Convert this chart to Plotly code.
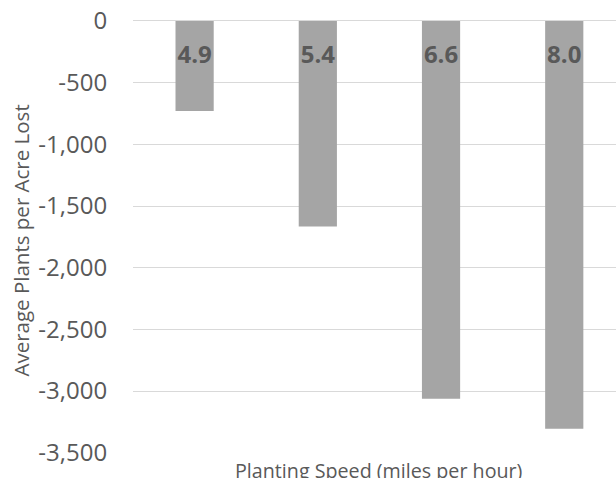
import plotly.graph_objects as go

categories = ["4.9", "5.4", "6.6", "8.0"]
plants_lost = [-730, -1665, -3063, -3305]
y_ticks = [0, -500, -1000, -1500, -2000, -2500, -3000, -3500]
y_tick_text = ["0", "-500", "-1,000", "-1,500", "-2,000", "-2,500", "-3,000", "-3,500"]
x_title = "Planting Speed (miles per hour)"
y_title = "Average Plants per Acre Lost"

LABEL_Y = -295
TXT = "#595959"
FONT = "Open Sans"

fig = go.Figure()
fig.add_trace(go.Bar(
    x=categories, y=plants_lost, width=0.31,
    marker=dict(color="#A5A5A5", line=dict(width=0)),
    hoverinfo="skip",
))
fig.add_trace(go.Scatter(
    x=categories, y=[LABEL_Y] * len(categories), text=categories,
    mode="text", textposition="middle center",
    textfont=dict(family=FONT, size=24, color=TXT, weight="bold"),
    hoverinfo="skip",
))

L = 133
PW = 616 - L

fig.update_layout(
    width=616, height=478,
    margin=dict(l=L, r=0, t=20, b=25),
    paper_bgcolor="white", plot_bgcolor="white",
    showlegend=False,
    font=dict(family=FONT, color=TXT),
    xaxis=dict(
        type="category", range=[-0.5, 3.42],
        showticklabels=False, showgrid=False, zeroline=False,
        showline=False, fixedrange=True,
    ),
    yaxis=dict(
        range=[-3502, 8], tickvals=y_ticks, ticktext=y_tick_text,
        tickfont=dict(family=FONT, size=24, color=TXT),
        ticklabeloverflow="allow",
        showgrid=True, gridcolor="#D9D9D9", gridwidth=1,
        zeroline=True, zerolinecolor="#D9D9D9", zerolinewidth=1,
        showline=False,
        ticks="outside", ticklen=20, tickcolor="rgba(0,0,0,0)",
    ),
    annotations=[
        dict(text=x_title, xref="x", yref="paper", x=1.5, y=0,
             yshift=-2, yanchor="top", xanchor="center", showarrow=False,
             font=dict(family=FONT, size=19.7, color=TXT)),
        dict(text=y_title, xref="paper", yref="paper", x=-L / PW, y=0.5,
             xshift=20, yshift=-4, textangle=-90, xanchor="center",
             yanchor="middle", showarrow=False,
             font=dict(family=FONT, size=20.5, color=TXT)),
    ],
)

fig.write_html(
    "out.html",
    config={"displayModeBar": False},
    post_script="document.body.style.margin='0';document.body.style.overflow='hidden';",
)
